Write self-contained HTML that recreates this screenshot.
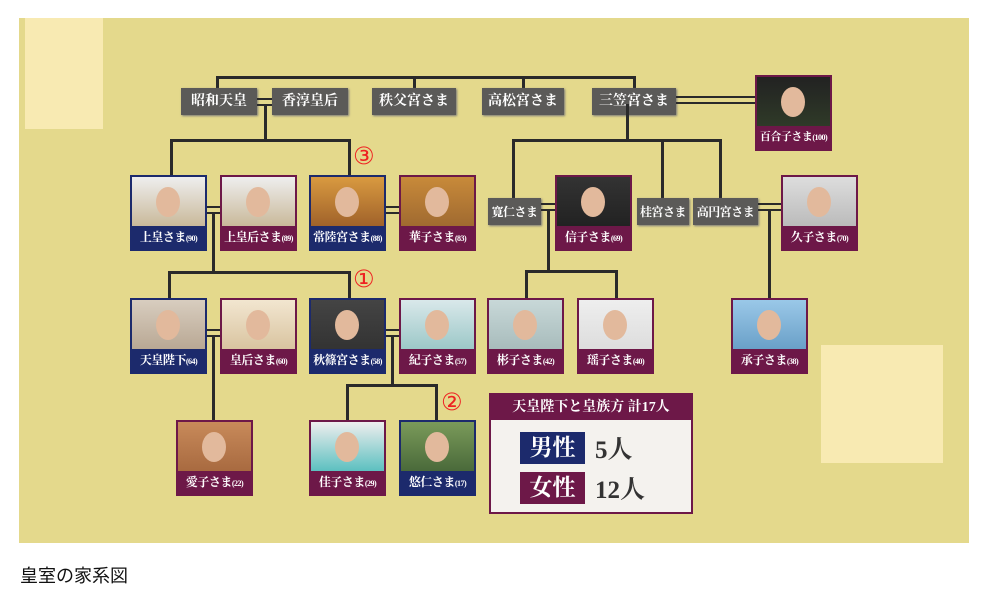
<!DOCTYPE html>
<html><head><meta charset="utf-8"><style>
body{margin:0;width:989px;height:599px;background:#fff;position:relative;overflow:hidden;font-family:"Liberation Serif","Noto Serif CJK SC",serif}
#bg{position:absolute;left:19px;top:18px;width:950px;height:525px;background:#e4d98c}
.a{position:absolute}
.l{position:absolute;background:#2a2a2a}
.g{position:absolute;background:#5b5a58;color:#fff;font-weight:bold;font-size:14px;text-align:center;line-height:28px;height:27px;box-shadow:1px 1px 2px #777;white-space:nowrap;overflow:hidden}
.g.s{font-size:12px;letter-spacing:-0.5px}
.c{position:absolute;width:73px;height:72px;border:2px solid #6d1848;background:#6d1848;overflow:hidden}
.c.b{border-color:#1c2a6c;background:#1c2a6c}
.c .p{height:49px;background:linear-gradient(#d8cdbf,#b9a894)}
.c .p:after{content:"";position:absolute;left:24px;top:10px;width:24px;height:30px;border-radius:50%;background:#e2b99c}
.c .t{color:#fff;font-weight:bold;font-size:12px;text-align:center;line-height:23px;white-space:nowrap;letter-spacing:-0.5px}
.c .t small{font-size:8px;letter-spacing:-0.5px}
.n{position:absolute;color:#e22;font-size:24px;font-family:"DejaVu Sans",sans-serif}
.d{position:absolute;height:2px;background:#2a2a2a}
</style></head><body>
<div id="bg"></div>
<div class="a" style="left:25px;top:18px;width:78px;height:111px;background:#f8eab2"></div>
<div class="a" style="left:821px;top:345px;width:122px;height:118px;background:#f8eab2"></div>

<div class="l" style="left:216px;top:76px;width:419px;height:3px"></div>
<div class="l" style="left:216px;top:76px;width:3px;height:14px"></div>
<div class="l" style="left:413px;top:76px;width:3px;height:14px"></div>
<div class="l" style="left:522px;top:76px;width:3px;height:14px"></div>
<div class="l" style="left:633px;top:76px;width:3px;height:14px"></div>
<div class="g" style="left:181px;top:88px;width:76px">昭和天皇</div>
<div class="g" style="left:272px;top:88px;width:76px">香淳皇后</div>
<div class="g" style="left:372px;top:88px;width:84px">秩父宮さま</div>
<div class="g" style="left:482px;top:88px;width:82px">高松宮さま</div>
<div class="g" style="left:592px;top:88px;width:84px">三笠宮さま</div>
<div class="d" style="left:257px;top:98px;width:15px"></div><div class="d" style="left:257px;top:104px;width:15px"></div>
<div class="d" style="left:676px;top:96px;width:80px"></div><div class="d" style="left:676px;top:102px;width:80px"></div>
<div class="c" style="left:755px;top:75px"><div class="p" style="background:linear-gradient(#222,#2f3a28)"></div><div class="t" style="font-size:11px">百合子さま<small>(100)</small></div></div>

<div class="l" style="left:264px;top:104px;width:3px;height:36px"></div>
<div class="l" style="left:170px;top:139px;width:180px;height:3px"></div>
<div class="l" style="left:170px;top:139px;width:3px;height:38px"></div>
<div class="l" style="left:348px;top:139px;width:3px;height:38px"></div>
<div class="n" style="left:353px;top:142px">③</div>
<div class="c b" style="left:130px;top:175px"><div class="p" style="background:linear-gradient(#eee,#c9b99a)"></div><div class="t">上皇さま<small>(90)</small></div></div>
<div class="c" style="left:220px;top:175px"><div class="p" style="background:linear-gradient(#eee,#c9b99a)"></div><div class="t">上皇后さま<small>(89)</small></div></div>
<div class="c b" style="left:309px;top:175px"><div class="p" style="background:linear-gradient(#d99a40,#a0622a)"></div><div class="t">常陸宮さま<small>(88)</small></div></div>
<div class="c" style="left:399px;top:175px"><div class="p" style="background:linear-gradient(#c88a3a,#a06a30)"></div><div class="t">華子さま<small>(83)</small></div></div>
<div class="d" style="left:207px;top:206px;width:13px"></div><div class="d" style="left:207px;top:212px;width:13px"></div>
<div class="d" style="left:386px;top:206px;width:13px"></div><div class="d" style="left:386px;top:212px;width:13px"></div>

<div class="l" style="left:212px;top:212px;width:3px;height:60px"></div>
<div class="l" style="left:168px;top:271px;width:182px;height:3px"></div>
<div class="l" style="left:168px;top:271px;width:3px;height:29px"></div>
<div class="l" style="left:348px;top:271px;width:3px;height:29px"></div>
<div class="n" style="left:353px;top:265px">①</div>
<div class="c b" style="left:130px;top:298px"><div class="p"></div><div class="t">天皇陛下<small>(64)</small></div></div>
<div class="c" style="left:220px;top:298px"><div class="p" style="background:linear-gradient(#f2e6d0,#d9c4a0)"></div><div class="t">皇后さま<small>(60)</small></div></div>
<div class="c b" style="left:309px;top:298px"><div class="p" style="background:linear-gradient(#444,#333)"></div><div class="t">秋篠宮さま<small>(58)</small></div></div>
<div class="c" style="left:399px;top:298px"><div class="p" style="background:linear-gradient(#d9e8ea,#9cc8c8)"></div><div class="t">紀子さま<small>(57)</small></div></div>
<div class="d" style="left:207px;top:329px;width:13px"></div><div class="d" style="left:207px;top:335px;width:13px"></div>
<div class="d" style="left:386px;top:329px;width:13px"></div><div class="d" style="left:386px;top:335px;width:13px"></div>
<div class="l" style="left:212px;top:335px;width:3px;height:87px"></div>
<div class="l" style="left:391px;top:335px;width:3px;height:50px"></div>
<div class="l" style="left:346px;top:384px;width:92px;height:3px"></div>
<div class="l" style="left:346px;top:384px;width:3px;height:38px"></div>
<div class="l" style="left:435px;top:384px;width:3px;height:38px"></div>
<div class="n" style="left:441px;top:388px">②</div>
<div class="c" style="left:176px;top:420px"><div class="p" style="background:linear-gradient(#c88a5a,#a86a40)"></div><div class="t">愛子さま<small>(22)</small></div></div>
<div class="c" style="left:309px;top:420px"><div class="p" style="background:linear-gradient(#eee,#5cc0c0)"></div><div class="t">佳子さま<small>(29)</small></div></div>
<div class="c b" style="left:399px;top:420px"><div class="p" style="background:linear-gradient(#7a9a5a,#4a6a3a)"></div><div class="t">悠仁さま<small>(17)</small></div></div>

<div class="l" style="left:626px;top:104px;width:3px;height:36px"></div>
<div class="l" style="left:512px;top:139px;width:209px;height:3px"></div>
<div class="l" style="left:512px;top:139px;width:3px;height:60px"></div>
<div class="l" style="left:661px;top:139px;width:3px;height:60px"></div>
<div class="l" style="left:719px;top:139px;width:3px;height:60px"></div>
<div class="g s" style="left:488px;top:198px;width:53px">寛仁さま</div>
<div class="c" style="left:555px;top:175px"><div class="p" style="background:linear-gradient(#333,#222)"></div><div class="t">信子さま<small>(69)</small></div></div>
<div class="g s" style="left:637px;top:198px;width:52px">桂宮さま</div>
<div class="g s" style="left:693px;top:198px;width:65px">高円宮さま</div>
<div class="c" style="left:781px;top:175px"><div class="p" style="background:linear-gradient(#ddd,#bbb)"></div><div class="t">久子さま<small>(70)</small></div></div>
<div class="d" style="left:541px;top:203px;width:14px"></div><div class="d" style="left:541px;top:209px;width:14px"></div>
<div class="d" style="left:758px;top:203px;width:23px"></div><div class="d" style="left:758px;top:209px;width:23px"></div>
<div class="l" style="left:547px;top:209px;width:3px;height:62px"></div>
<div class="l" style="left:525px;top:270px;width:93px;height:3px"></div>
<div class="l" style="left:525px;top:270px;width:3px;height:30px"></div>
<div class="l" style="left:615px;top:270px;width:3px;height:30px"></div>
<div class="l" style="left:768px;top:209px;width:3px;height:91px"></div>
<div class="c" style="left:487px;top:298px"><div class="p" style="background:linear-gradient(#c8d8d8,#a8bcbc)"></div><div class="t">彬子さま<small>(42)</small></div></div>
<div class="c" style="left:577px;top:298px"><div class="p" style="background:linear-gradient(#eee,#ddd)"></div><div class="t">瑶子さま<small>(40)</small></div></div>
<div class="c" style="left:731px;top:298px"><div class="p" style="background:linear-gradient(#9ac8e8,#6aa0c8)"></div><div class="t">承子さま<small>(38)</small></div></div>

<div class="a" style="left:489px;top:393px;width:200px;height:117px;border:2px solid #6d1848;background:#f4f2ee">
 <div style="background:#6d1848;color:#fff;font-weight:bold;font-size:14px;line-height:25px;height:25px;text-align:center">天皇陛下と皇族方 計17人</div>
 <div class="a" style="left:29px;top:37px;width:65px;height:32px;background:#1c2a6c;color:#fff;font-weight:bold;font-size:23px;line-height:32px;text-align:center">男性</div>
 <div class="a" style="left:104px;top:35px;font-weight:bold;font-size:25px;color:#333">5人</div>
 <div class="a" style="left:29px;top:77px;width:65px;height:32px;background:#6d1848;color:#fff;font-weight:bold;font-size:23px;line-height:32px;text-align:center">女性</div>
 <div class="a" style="left:104px;top:75px;font-weight:bold;font-size:25px;color:#333">12人</div>
</div>

<div class="a" style="left:20px;top:562px;font-family:'Liberation Sans','Noto Sans CJK JP',sans-serif;font-size:18px;color:#111">皇室の家系図</div>
</body></html>
